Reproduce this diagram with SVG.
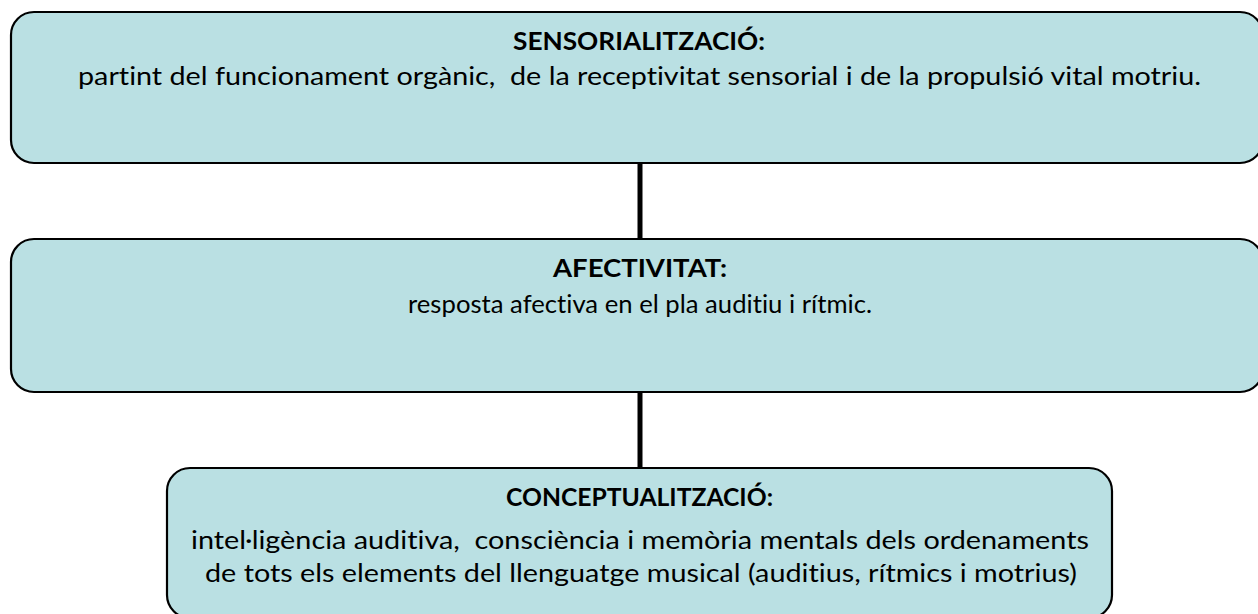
<svg xmlns="http://www.w3.org/2000/svg" width="1258" height="614" viewBox="0 0 1258 614">
<style>
.box{fill:#BAE0E3;stroke:#000;stroke-width:2.2}
.t{font-family:Lato,"Open Sans","Liberation Sans",sans-serif;font-size:25px;fill:#000;text-anchor:middle;white-space:pre;font-variant-ligatures:none;font-feature-settings:"liga" 0,"clig" 0}
.b{font-weight:bold}
.c{stroke:#000;stroke-width:5;fill:none}
</style>
<rect width="1258" height="614" fill="#fff"/>
<g id="connectors">
<line class="c" x1="640" y1="163" x2="640" y2="239"/>
<line class="c" x1="640" y1="392" x2="640" y2="468"/>
</g>
<g id="sensorialitzacio">
<rect class="box" x="11" y="12" width="1252" height="151" rx="23"/>
<text class="t b" x="639" y="50" textLength="252" lengthAdjust="spacingAndGlyphs">SENSORIALITZACIÓ:</text>
<text class="t" x="639.5" y="85" textLength="1123" lengthAdjust="spacingAndGlyphs" xml:space="preserve">partint del funcionament orgànic,  de la receptivitat sensorial i de la propulsió vital motriu.</text>
</g>
<g id="afectivitat">
<rect class="box" x="11" y="239" width="1252" height="153" rx="23"/>
<text class="t b" x="640" y="277" textLength="174" lengthAdjust="spacingAndGlyphs">AFECTIVITAT:</text>
<text class="t" x="640" y="313" textLength="464" lengthAdjust="spacingAndGlyphs">resposta afectiva en el pla auditiu i rítmic.</text>
</g>
<g id="conceptualitzacio">
<rect class="box" x="167" y="468" width="945" height="150" rx="23"/>
<text class="t b" x="639.5" y="506" textLength="267" lengthAdjust="spacingAndGlyphs">CONCEPTUALITZACIÓ:</text>
<text class="t" x="640" y="549" textLength="898" lengthAdjust="spacingAndGlyphs" xml:space="preserve">intel·ligència auditiva,  consciència i memòria mentals dels ordenaments</text>
<text class="t" x="641" y="582" textLength="872" lengthAdjust="spacingAndGlyphs">de tots els elements del llenguatge musical (auditius, rítmics i motrius)</text>
</g>
</svg>
